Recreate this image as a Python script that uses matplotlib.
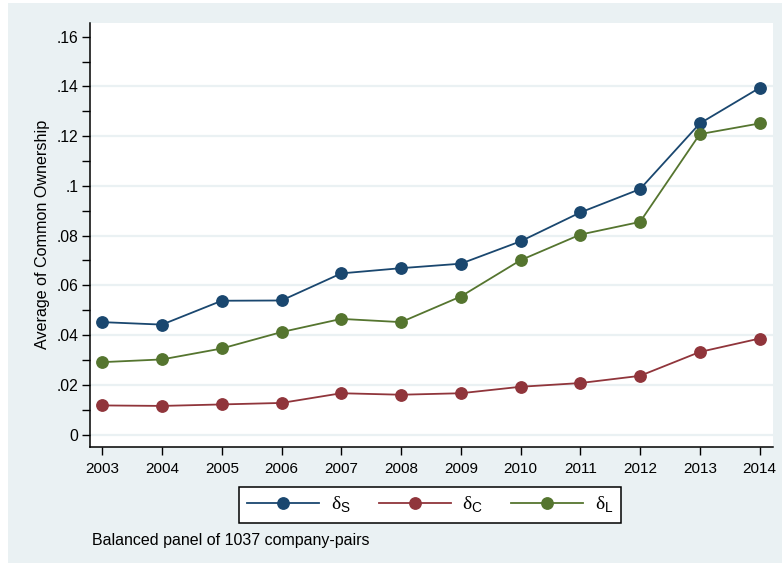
import numpy as np
import matplotlib
matplotlib.use("Agg")
import matplotlib.pyplot as plt
from matplotlib.patches import Rectangle

plt.rcParams['font.family'] = ['Liberation Sans', 'DejaVu Sans']
plt.rcParams['mathtext.fontset'] = 'custom'
plt.rcParams['mathtext.sf'] = 'Liberation Sans'
plt.rcParams['mathtext.rm'] = 'Liberation Sans'

# data
years = [2003, 2004, 2005, 2006, 2007, 2008, 2009, 2010, 2011, 2012, 2013, 2014]
delta_s = [0.0452, 0.0442, 0.0538, 0.0539, 0.0648, 0.0669, 0.0687, 0.0777, 0.0893, 0.0987, 0.1251, 0.1394]
delta_c = [0.0117, 0.0115, 0.0121, 0.0127, 0.0166, 0.0160, 0.0166, 0.0192, 0.0207, 0.0236, 0.0332, 0.0386]
delta_l = [0.0291, 0.0302, 0.0346, 0.0412, 0.0465, 0.0452, 0.0555, 0.0701, 0.0804, 0.0855, 0.1208, 0.1251]
labels = ['δ$_{\\mathsf{S}}$', 'δ$_{\\mathsf{C}}$', 'δ$_{\\mathsf{L}}$']
yticks = [0, 0.02, 0.04, 0.06, 0.08, 0.10, 0.12, 0.14, 0.16]
ytick_labels = ['0', '.02', '.04', '.06', '.08', '.1', '.12', '.14', '.16']

navy = '#1a476f'
maroon = '#90353b'
green = '#55752f'
bg = '#eaf1f3'

fig = plt.figure(figsize=(7.82, 5.69), dpi=100, facecolor='white')
fig.patches.append(Rectangle((8/782, 6/569), 774/782, 560/569, transform=fig.transFigure,
                             facecolor=bg, edgecolor='none', zorder=-10))

ax = fig.add_axes([89.7/782, 1 - 446.7/569, 683/782, 423.7/569])
ax.set_zorder(1)
ax.set_facecolor('white')

# light gridlines (none at the top tick)
for yv in yticks[:-1]:
    ax.axhline(yv, color=bg, lw=1.6, zorder=1)

for vals, col, lab in zip([delta_s, delta_c, delta_l], [navy, maroon, green], labels):
    ax.plot(years, vals, color=col, lw=1.3, marker='o', markersize=8.2,
            markeredgecolor=col, label=lab, zorder=3)

ax.set_xlim(2002.79, 2014.22)
ax.set_ylim(-0.0049, 0.1655)
ax.set_xticks(years)
ax.set_xticklabels([str(y) for y in years])
ax.set_yticks(yticks)
ax.set_yticklabels(ytick_labels)
ax.set_yticks(np.arange(0.01, 0.16, 0.02), minor=True)

for s in ['top', 'right']:
    ax.spines[s].set_visible(False)
for s in ['left', 'bottom']:
    ax.spines[s].set_linewidth(1.1)
ax.tick_params(axis='both', which='major', length=6, width=1.0, labelsize=11, color='black')
ax.tick_params(axis='y', which='major', pad=2, labelsize=11.3)
ax.tick_params(axis='x', which='major', pad=5)
ax.tick_params(axis='y', which='minor', length=6, width=1.0)

ax.set_ylabel('Average of Common Ownership', fontsize=11.6, labelpad=5)

leg = fig.legend(loc='center', bbox_to_anchor=(430.3/782, 1 - 505/569), ncol=3,
                 frameon=True, fancybox=False, edgecolor='black', facecolor='white',
                 prop={'family': 'Liberation Serif', 'size': 14},
                 handlelength=3.7, handletextpad=0.6, columnspacing=1.45,
                 borderpad=0.4, markerscale=1.0)
leg.get_frame().set_linewidth(1.1)
leg.get_frame().set_alpha(1)

fig.text(92/782, 1 - 541/569, 'Balanced panel of 1037 company-pairs', fontsize=11.5,
         ha='left', va='center')

fig.savefig('out.png', dpi=100, facecolor=fig.get_facecolor())
